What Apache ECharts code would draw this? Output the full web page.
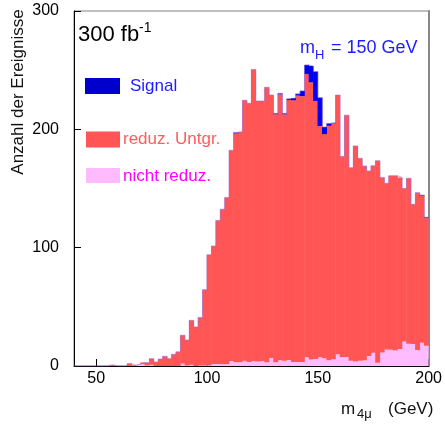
<!DOCTYPE html>
<html>
<head>
<meta charset="utf-8">
<title>m4mu Verteilung</title>
<script src="https://cdn.jsdelivr.net/npm/echarts@6.0.0/dist/echarts.min.js"></script>
<style>
  html, body { margin: 0; padding: 0; background: #fff; }
  #chart { width: 445px; height: 424px; }
</style>
</head>
<body>
<div id="chart"></div>
<script>
// untere Binkanten (2 GeV Bins, 40 - 200 GeV)
const binLow = [
  40, 42, 44, 46, 48, 50, 52, 54, 56, 58,
  60, 62, 64, 66, 68, 70, 72, 74, 76, 78,
  80, 82, 84, 86, 88, 90, 92, 94, 96, 98,
  100, 102, 104, 106, 108, 110, 112, 114, 116, 118,
  120, 122, 124, 126, 128, 130, 132, 134, 136, 138,
  140, 142, 144, 146, 148, 150, 152, 154, 156, 158,
  160, 162, 164, 166, 168, 170, 172, 174, 176, 178,
  180, 182, 184, 186, 188, 190, 192, 194, 196, 198
]
const binHigh = 200

// nicht reduzierbarer Untergrund
const nichtReduz = [
  0, 0, 0, 0, 0, 0, 0, 0, 0, 0,
  0, 0, 0, 0, 1.5, 1.5, 0.5, 1, 0, 0,
  0, 0, 0, 0, 2, 0.5, 1, 0, 0.5, 0.5,
  0.5, 1.7, 1.7, 1.5, 1.5, 4.2, 3.1, 3.1, 4.5, 3.4,
  4.2, 3.7, 4.2, 3.1, 6.8, 3.1, 4.8, 4.5, 5, 3.4,
  3.4, 3.4, 7.3, 5.4, 6, 7.4, 6.5, 4.8, 5.6, 9.9,
  7.3, 7.6, 4.5, 3.7, 4.5, 4.8, 8.5, 11.3, 2.8, 11.5,
  14, 13.8, 13, 14.4, 20.6, 18.9, 18.6, 13.5, 19.7, 17.2
]

// reduzierbarer Untergrund
const reduzUntgr = [
  0, 0, 0, 0, 0, 0, 0, 0, 1, 0,
  0, 0, 2, 0.5, 0, 1.5, 2.3, 5.2, 3.4, 5.9,
  8.2, 6.2, 9.9, 12, 24, 21.5, 37.6, 33, 40.5, 64,
  93.5, 99.7, 121.3, 131, 141, 178.1, 193.4, 194.9, 220, 218.6,
  246.3, 220.3, 219.8, 232.4, 222.2, 209.6, 224.8, 208.2, 219.8, 221.1,
  225.1, 224.6, 239.5, 234.3, 218, 195.4, 189.5, 198.2, 199.4, 219.1,
  169.7, 204.4, 163.1, 182.3, 171, 164.2, 156.3, 158, 170.7, 147.9,
  140.4, 147, 147.8, 145, 129.4, 139.7, 118, 133, 124.3, 108.1
]

// Signal, m_H = 150 GeV
const signal = [
  0, 0, 0, 0, 0, 0, 0, 0, 0, 0,
  0, 0, 0, 0, 0, 0, 0, 0, 0, 0,
  0, 0, 0, 0, 0, 0, 0, 0, 0, 0,
  0, 0, 0, 0, 0, 0, 0.8, 0, 0, 0,
  0, 0, 0, 0, 0, 0.8, 0.8, 0.8, 1, 2,
  1.5, 4.5, 7.6, 13.8, 24.8, 24, 6, 2, 0.5, 0,
  0, 0, 0, 0, 0, 0, 0, 0, 0, 0,
  0, 0, 0, 0, 0, 0, 0, 0, 0.5, 0.5
]

const xTicks = [50, 100, 150, 200]
const yTicks = [0, 100, 200, 300]

const fontFam = 'Liberation Sans, Arial, Helvetica, sans-serif'

// Umriss des Histogramms (Summe aller Beiträge)
const outline = binLow.map((x, i) => [x, nichtReduz[i] + reduzUntgr[i] + signal[i]])
outline.push([binHigh, outline[outline.length - 1][1]])

const myChart = echarts.init(document.getElementById('chart'), null, { renderer: 'canvas' })

const option = {
  animation: false,
  backgroundColor: '#fff',
  grid: {
    left: 74,
    right: 16,
    top: 11,
    bottom: 58,
    show: true,
    borderColor: '#808080',
    borderWidth: 1
  },
  xAxis: [
    {
      type: 'category',
      data: binLow,
      show: false,
      boundaryGap: true
    },
    {
      type: 'value',
      min: 40,
      max: binHigh,
      position: 'bottom',
      axisLine: { show: true, lineStyle: { color: '#000', width: 1 } },
      axisTick: { show: true, inside: true, length: 7, lineStyle: { color: '#000' }, customValues: xTicks },
      axisLabel: { fontSize: 16, color: '#000', fontFamily: fontFam, margin: 5, customValues: xTicks },
      splitLine: { show: false }
    }
  ],
  yAxis: [
    {
      type: 'value',
      min: yTicks[0],
      max: yTicks[yTicks.length - 1],
      interval: 100,
      axisLine: { show: true, lineStyle: { color: '#000', width: 1 } },
      axisTick: { show: true, inside: true, length: 7, lineStyle: { color: '#000' } },
      axisLabel: { fontSize: 16, color: '#000', fontFamily: fontFam, margin: 15 },
      splitLine: { show: false }
    },
    {
      // rechter Rahmen
      type: 'value',
      position: 'right',
      min: yTicks[0],
      max: yTicks[yTicks.length - 1],
      axisLine: { show: true, lineStyle: { color: '#888', width: 2 } },
      axisTick: { show: false },
      axisLabel: { show: false },
      splitLine: { show: false }
    }
  ],
  series: [
    {
      name: 'nicht reduz.',
      type: 'bar',
      stack: 'hist',
      xAxisIndex: 0,
      barWidth: '112%',
      itemStyle: { color: '#ffbbff' },
      data: nichtReduz
    },
    {
      name: 'reduz. Untgr.',
      type: 'bar',
      stack: 'hist',
      xAxisIndex: 0,
      barWidth: '112%',
      itemStyle: { color: '#ff5555' },
      data: reduzUntgr
    },
    {
      name: 'Signal',
      type: 'bar',
      stack: 'hist',
      xAxisIndex: 0,
      barWidth: '112%',
      itemStyle: { color: '#0000ee' },
      data: signal
    },
    {
      name: 'Umriss',
      type: 'line',
      xAxisIndex: 1,
      step: 'end',
      symbol: 'none',
      z: 3,
      lineStyle: { color: 'rgba(150,110,220,0.6)', width: 1 },
      data: outline
    }
  ],
  graphic: [
    // Achsentitel y
    {
      type: 'text', x: 18, y: 92, rotation: Math.PI / 2,
      style: { text: 'Anzahl der Ereignisse', fontSize: 17, fontFamily: fontFam, fill: '#111', align: 'center', verticalAlign: 'middle' }
    },
    // Achsentitel x
    { type: 'text', x: 341, y: 409, style: { text: 'm', fontSize: 17, fontFamily: fontFam, fill: '#111', align: 'left', verticalAlign: 'middle' } },
    { type: 'text', x: 357, y: 414, style: { text: '4μ', fontSize: 13, fontFamily: fontFam, fill: '#111', align: 'left', verticalAlign: 'middle' } },
    { type: 'text', x: 388, y: 409, style: { text: '(GeV)', fontSize: 17, fontFamily: fontFam, fill: '#111', align: 'left', verticalAlign: 'middle' } },
    // Luminositaet
    { type: 'text', x: 78, y: 35, style: { text: '300 fb', fontSize: 22, fontFamily: fontFam, fill: '#000', align: 'left', verticalAlign: 'middle' } },
    { type: 'text', x: 139, y: 28, style: { text: '-1', fontSize: 14, fontFamily: fontFam, fill: '#000', align: 'left', verticalAlign: 'middle' } },
    // Higgs-Masse
    { type: 'text', x: 300, y: 48, style: { text: 'm', fontSize: 18, fontFamily: fontFam, fill: '#1c1cff', align: 'left', verticalAlign: 'middle' } },
    { type: 'text', x: 315, y: 55, style: { text: 'H', fontSize: 13, fontFamily: fontFam, fill: '#1c1cff', align: 'left', verticalAlign: 'middle' } },
    { type: 'text', x: 331, y: 48, style: { text: '= 150 GeV', fontSize: 18, fontFamily: fontFam, fill: '#1c1cff', align: 'left', verticalAlign: 'middle' } },
    // Legende
    { type: 'rect', shape: { x: 85, y: 78, width: 35, height: 16 }, style: { fill: '#0000cc' } },
    { type: 'text', x: 130, y: 86.5, style: { text: 'Signal', fontSize: 17, fontFamily: fontFam, fill: '#1c1cff', align: 'left', verticalAlign: 'middle' } },
    { type: 'rect', shape: { x: 86, y: 131.5, width: 34, height: 16 }, style: { fill: '#ff5555' } },
    { type: 'text', x: 123, y: 139, style: { text: 'reduz. Untgr.', fontSize: 17, fontFamily: fontFam, fill: '#ff5c5c', align: 'left', verticalAlign: 'middle' } },
    { type: 'rect', shape: { x: 86, y: 168, width: 34, height: 15 }, style: { fill: '#ffbbff' } },
    { type: 'text', x: 123, y: 176, style: { text: 'nicht reduz.', fontSize: 17, fontFamily: fontFam, fill: '#ff00ff', align: 'left', verticalAlign: 'middle' } }
  ]
}

myChart.setOption(option)
window.addEventListener('resize', function () {
  myChart.resize()
})
</script>
</body>
</html>
